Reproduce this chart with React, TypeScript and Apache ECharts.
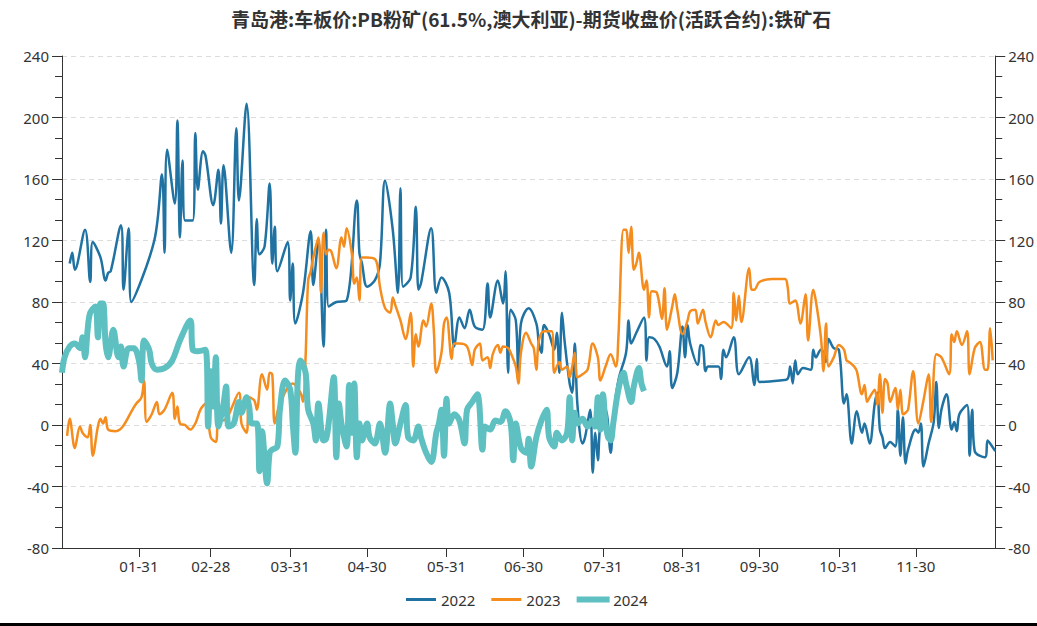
import React, { useEffect, useRef } from "react";
import * as echarts from "echarts";

const TITLE = "青岛港:车板价:PB粉矿(61.5%,澳大利亚)-期货收盘价(活跃合约):铁矿石";
const MONTH_DAYS = [31, 28, 31, 30, 31, 30, 31, 31, 30, 31, 30, 31];
const TICK_LABELS = ["01-31", "02-28", "03-31", "04-30", "05-31", "06-30", "07-31", "08-31", "09-30", "10-31", "11-30"];
const Y_MIN = -80;
const Y_MAX = 240;
const Y_STEP = 40;
const SERIES_NAMES = ["2022", "2023", "2024"];
const COLORS = ["#1f72a1", "#f58c1e", "#5ec0c1"];

const data2022: [string, number][] = [
  ["01-04", 105], ["01-05", 112], ["01-06", 101], ["01-10", 127], ["01-12", 93], ["01-13", 119], ["01-16", 109],
  ["01-18", 94], ["01-19", 99], ["01-20", 100], ["01-24", 130], ["01-25", 88], ["01-27", 128], ["01-28", 80],
  ["02-06", 120], ["02-09", 163], ["02-10", 112], ["02-11", 179], ["02-14", 144], ["02-15", 198], ["02-16", 122],
  ["02-17", 172], ["02-18", 133], ["02-21", 133], ["02-22", 190], ["02-23", 153], ["02-25", 178], ["02-26", 175],
  ["03-01", 143], ["03-03", 166], ["03-04", 131], ["03-05", 169], ["03-08", 112], ["03-10", 193], ["03-11", 146],
  ["03-14", 209], ["03-17", 91], ["03-18", 134], ["03-19", 111], ["03-21", 116], ["03-23", 157], ["03-24", 105],
  ["03-25", 129], ["03-26", 100], ["03-30", 119], ["03-31", 81], ["04-01", 105], ["04-02", 66], ["04-05", 86],
  ["04-08", 126], ["04-09", 91], ["04-11", 120], ["04-13", 51], ["04-14", 127], ["04-15", 77], ["04-18", 80],
  ["04-22", 81], ["04-26", 146], ["04-27", 112], ["04-28", 105], ["04-30", 90], ["05-03", 94], ["05-05", 105],
  ["05-07", 159], ["05-10", 127], ["05-12", 86], ["05-13", 154], ["05-14", 90], ["05-17", 96], ["05-19", 142],
  ["05-20", 88], ["05-21", 92], ["05-25", 128], ["05-27", 86], ["05-29", 96], ["06-01", 86], ["06-03", 51],
  ["06-05", 70], ["06-07", 63], ["06-09", 75], ["06-11", 64], ["06-14", 62], ["06-16", 92], ["06-17", 70],
  ["06-20", 94], ["06-22", 79], ["06-23", 100], ["06-24", 34], ["06-25", 75], ["06-27", 68], ["06-28", 29],
  ["06-29", 66], ["07-02", 76], ["07-05", 66], ["07-06", 53], ["07-07", 47], ["07-08", 65], ["07-10", 59],
  ["07-12", 49], ["07-13", 60], ["07-14", 34], ["07-15", 73], ["07-16", 55], ["07-18", 27], ["07-19", 21],
  ["07-20", 53], ["07-21", 14], ["07-23", -12], ["07-24", -8], ["07-26", 10], ["07-27", -31], ["07-28", -5],
  ["07-29", -23], ["07-30", 1], ["08-01", 10], ["08-03", -18], ["08-04", 5], ["08-06", 29], ["08-09", 47],
  ["08-10", 68], ["08-11", 53], ["08-13", 60], ["08-16", 70], ["08-17", 42], ["08-18", 57], ["08-20", 56],
  ["08-22", 51], ["08-25", 38], ["08-26", 48], ["08-27", 24], ["08-29", 34], ["08-31", 64], ["09-01", 44],
  ["09-02", 65], ["09-03", 53], ["09-06", 39], ["09-07", 52], ["09-08", 51], ["09-09", 35], ["09-10", 38],
  ["09-14", 38], ["09-15", 30], ["09-16", 49], ["09-17", 44], ["09-20", 57], ["09-22", 33], ["09-26", 44],
  ["09-28", 26], ["09-29", 43], ["09-30", 28], ["10-08", 29], ["10-11", 30], ["10-12", 38], ["10-13", 27],
  ["10-14", 42], ["10-15", 33], ["10-17", 37], ["10-20", 36], ["10-21", 49], ["10-22", 44], ["10-24", 49],
  ["10-25", 47], ["10-26", 41], ["10-27", 56], ["10-29", 50], ["10-31", 49], ["11-02", 14], ["11-03", 20],
  ["11-05", -12], ["11-07", 9], ["11-09", -5], ["11-10", 1], ["11-12", -12], ["11-14", 14], ["11-15", 21],
  ["11-16", -3], ["11-17", -8], ["11-18", -15], ["11-20", -11], ["11-22", -14], ["11-23", 10], ["11-24", -20],
  ["11-25", 5], ["11-26", -25], ["11-27", -16], ["11-30", -3], ["12-01", -5], ["12-02", 1], ["12-03", -27],
  ["12-05", -12], ["12-07", 2], ["12-08", 28], ["12-09", -2], ["12-10", 10], ["12-12", 20], ["12-14", -3],
  ["12-15", 2], ["12-16", -4], ["12-17", 7], ["12-20", 13], ["12-21", -20], ["12-22", 10], ["12-23", -17],
  ["12-27", -21], ["12-28", -10], ["12-29", -12], ["12-31", -17],
];

const data2023: [string, number][] = [
  ["01-03", -7], ["01-04", 4], ["01-06", -15], ["01-08", -1], ["01-09", -5], ["01-11", -8], ["01-12", 0],
  ["01-13", -20], ["01-15", -1], ["01-16", 4], ["01-17", 1], ["01-18", 5], ["01-19", -3], ["01-22", -4],
  ["01-30", 14], ["02-01", 18], ["02-02", 29], ["02-03", 2], ["02-05", 7], ["02-07", 15], ["02-08", 7],
  ["02-10", 10], ["02-13", 21], ["02-14", 4], ["02-15", 12], ["02-16", 1], ["02-18", 0], ["02-20", -3],
  ["02-22", 1], ["02-24", 10], ["02-26", 14], ["02-28", -8], ["03-02", -11], ["03-03", 8], ["03-05", 3],
  ["03-11", 21], ["03-12", 1], ["03-14", -5], ["03-15", 18], ["03-17", 16], ["03-18", 10], ["03-20", 33],
  ["03-22", 23], ["03-23", 34], ["03-24", 33], ["03-25", 1], ["03-27", 14], ["04-01", 27], ["04-04", 21],
  ["04-05", 15], ["04-06", 44], ["04-07", 94], ["04-08", 100], ["04-09", 109], ["04-11", 122], ["04-12", 86],
  ["04-13", 125], ["04-14", 111], ["04-15", 114], ["04-16", 113], ["04-18", 102], ["04-20", 122], ["04-21", 116],
  ["04-22", 128], ["04-24", 112], ["04-25", 92], ["04-26", 96], ["04-27", 81], ["04-28", 109], ["04-30", 109],
  ["05-03", 108], ["05-04", 104], ["05-05", 90], ["05-07", 76], ["05-09", 73], ["05-10", 83], ["05-11", 78],
  ["05-13", 68], ["05-15", 56], ["05-17", 73], ["05-18", 38], ["05-19", 59], ["05-20", 51], ["05-22", 68],
  ["05-23", 64], ["05-25", 79], ["05-26", 62], ["05-27", 34], ["05-29", 47], ["05-30", 66], ["05-31", 70],
  ["06-02", 43], ["06-03", 53], ["06-05", 53], ["06-08", 51], ["06-10", 39], ["06-11", 49], ["06-13", 53],
  ["06-14", 42], ["06-16", 44], ["06-17", 37], ["06-18", 46], ["06-20", 52], ["06-21", 47], ["06-22", 51],
  ["06-24", 50], ["06-25", 47], ["06-27", 38], ["06-28", 27], ["06-29", 47], ["07-01", 60], ["07-03", 53],
  ["07-04", 50], ["07-05", 36], ["07-06", 55], ["07-08", 61], ["07-11", 61], ["07-12", 34], ["07-14", 41],
  ["07-15", 36], ["07-17", 38], ["07-18", 31], ["07-19", 38], ["07-20", 47], ["07-21", 31], ["07-23", 33],
  ["07-25", 36], ["07-27", 53], ["07-29", 44], ["07-30", 29], ["08-01", 38], ["08-03", 46], ["08-05", 38],
  ["08-06", 57], ["08-08", 127], ["08-09", 127], ["08-10", 112], ["08-11", 129], ["08-12", 101], ["08-13", 105],
  ["08-14", 112], ["08-16", 88], ["08-17", 94], ["08-18", 70], ["08-19", 87], ["08-21", 86], ["08-23", 69],
  ["08-24", 89], ["08-25", 62], ["08-27", 77], ["08-28", 85], ["08-29", 75], ["08-31", 59], ["09-02", 68],
  ["09-03", 74], ["09-05", 75], ["09-06", 66], ["09-08", 75], ["09-09", 67], ["09-11", 57], ["09-13", 68],
  ["09-14", 65], ["09-16", 67], ["09-19", 63], ["09-20", 86], ["09-21", 68], ["09-22", 84], ["09-23", 67],
  ["09-26", 102], ["09-27", 88], ["09-28", 88], ["09-30", 93], ["10-05", 95], ["10-10", 95], ["10-11", 90],
  ["10-12", 79], ["10-14", 81], ["10-16", 66], ["10-18", 85], ["10-19", 55], ["10-21", 88], ["10-22", 81],
  ["10-24", 57], ["10-25", 35], ["10-26", 66], ["10-27", 38], ["10-29", 44], ["10-31", 52], ["11-02", 49],
  ["11-03", 42], ["11-04", 41], ["11-06", 38], ["11-07", 35], ["11-09", 20], ["11-10", 26], ["11-11", 15],
  ["11-12", 18], ["11-14", 23], ["11-15", 13], ["11-16", 33], ["11-17", 8], ["11-18", 30], ["11-19", 27],
  ["11-20", 15], ["11-22", 24], ["11-23", 10], ["11-24", 23], ["11-25", 7], ["11-26", 8], ["11-27", 10],
  ["11-29", 35], ["12-01", 1], ["12-03", 16], ["12-05", 33], ["12-06", 2], ["12-08", 46], ["12-10", 44],
  ["12-13", 33], ["12-14", 59], ["12-15", 54], ["12-16", 61], ["12-18", 52], ["12-20", 61], ["12-21", 33],
  ["12-23", 50], ["12-25", 54], ["12-27", 36], ["12-28", 36], ["12-29", 63], ["12-30", 42],
];

const data2024: [string, number][] = [
  ["01-01", 34], ["01-02", 44], ["01-04", 51], ["01-06", 53], ["01-08", 50], ["01-09", 57], ["01-10", 44],
  ["01-11", 62], ["01-12", 73], ["01-14", 77], ["01-15", 57], ["01-16", 79], ["01-17", 79], ["01-18", 53],
  ["01-19", 44], ["01-21", 62], ["01-23", 44], ["01-24", 51], ["01-25", 38], ["01-27", 50], ["01-29", 50],
  ["01-31", 42], ["02-01", 29], ["02-02", 55], ["02-04", 49], ["02-05", 40], ["02-07", 36], ["02-10", 37],
  ["02-13", 42], ["02-16", 55], ["02-20", 68], ["02-21", 49], ["02-23", 48], ["02-26", 49], ["02-27", -1],
  ["02-28", 35], ["03-01", 12], ["03-02", 44], ["03-03", -1], ["03-05", 14], ["03-06", 25], ["03-07", -1],
  ["03-09", 1], ["03-11", 15], ["03-12", 8], ["03-14", 18], ["03-15", 12], ["03-16", 1], ["03-18", 1],
  ["03-19", -30], ["03-20", -4], ["03-22", -38], ["03-23", -18], ["03-24", -16], ["03-26", -14], ["03-27", 10],
  ["03-29", 29], ["03-31", 23], ["04-01", 1], ["04-02", -18], ["04-03", 31], ["04-04", 42], ["04-06", 34],
  ["04-07", 10], ["04-09", 1], ["04-10", -10], ["04-11", 14], ["04-13", -10], ["04-14", -9], ["04-15", 1],
  ["04-17", 31], ["04-18", -21], ["04-19", 14], ["04-20", 1], ["04-22", -14], ["04-23", 26], ["04-24", -5],
  ["04-25", 27], ["04-26", -21], ["04-27", 1], ["04-28", -10], ["04-30", 1], ["05-01", -8], ["05-03", -12],
  ["05-05", 1], ["05-07", -18], ["05-09", 14], ["05-10", 1], ["05-11", -12], ["05-13", 1], ["05-15", 13],
  ["05-16", -8], ["05-18", -10], ["05-20", -1], ["05-21", -8], ["05-23", -18], ["05-25", -24], ["05-27", -5],
  ["05-28", 1], ["05-29", 10], ["05-30", -20], ["05-31", 17], ["06-01", 1], ["06-03", 7], ["06-05", 3],
  ["06-07", -12], ["06-08", 10], ["06-10", 15], ["06-12", 20], ["06-14", -16], ["06-15", -1], ["06-17", -3],
  ["06-19", 3], ["06-21", 2], ["06-23", 9], ["06-25", 1], ["06-26", -23], ["06-27", 1], ["06-29", -15],
  ["07-01", -18], ["07-02", -9], ["07-03", -27], ["07-05", -8], ["07-07", 3], ["07-09", 10], ["07-10", -8],
  ["07-12", -14], ["07-13", -5], ["07-15", -10], ["07-17", -5], ["07-18", 18], ["07-19", -10], ["07-20", 8],
  ["07-21", 1], ["07-23", 4], ["07-25", -1], ["07-27", 3], ["07-28", -1], ["07-29", 18], ["07-30", -3],
  ["07-31", 20], ["08-01", 1], ["08-02", -8], ["08-03", -10], ["08-04", 1], ["08-06", 23], ["08-08", 34],
  ["08-09", 27], ["08-11", 15], ["08-12", 25], ["08-14", 37], ["08-15", 27], ["08-16", 22],
];

const SERIES_DATA = [data2022, data2023, data2024];
const LINE_WIDTHS = [2.5, 2.5, 6];

const categories: string[] = [];
MONTH_DAYS.forEach((n, m) => {
  for (let d = 1; d <= n; d++) {
    categories.push(String(m + 1).padStart(2, "0") + "-" + String(d).padStart(2, "0"));
  }
});

const FONT = "'Noto Sans CJK SC', 'Noto Sans', sans-serif";
const LABEL_FONT = "'Noto Sans', 'Open Sans', sans-serif";
const showTick = (_i: number, v: string) => TICK_LABELS.includes(v);

function yAxis(position: "left" | "right", split: boolean) {
  return {
    type: "value",
    position,
    min: Y_MIN,
    max: Y_MAX,
    interval: Y_STEP,
    axisLine: { show: true, lineStyle: { color: "#333", width: 1 } },
    axisTick: { show: true, length: 10, lineStyle: { color: "#333" } },
    minorTick: { show: true, splitNumber: 3, length: 7, lineStyle: { color: "#333" } },
    axisLabel: { color: "#333", fontSize: 15, margin: 13, fontFamily: LABEL_FONT },
    splitLine: { show: split, lineStyle: { color: "#dcdcdc", type: [5, 4] } },
  };
}

export default function App() {
  const ref = useRef<HTMLDivElement>(null);
  useEffect(() => {
    if (!ref.current) return;
    const chart = echarts.init(ref.current, undefined, { renderer: "svg" });
    chart.setOption({
      animation: false,
      backgroundColor: "#fff",
      textStyle: { fontFamily: FONT },
      title: {
        text: TITLE,
        left: 226,
        top: 4,
        textStyle: { fontSize: 19, fontWeight: "bold", color: "#333", fontFamily: FONT },
      },
      legend: {
        data: SERIES_NAMES.map((name, i) => ({
          name,
          icon: "rect",
          itemStyle: i === 2 ? { borderWidth: 3, borderColor: COLORS[i] } : { borderWidth: 0 },
        })),
        left: 401,
        top: 587,
        itemWidth: 30,
        itemHeight: 3,
        itemGap: 16,
        textStyle: { fontSize: 15, color: "#333", fontFamily: LABEL_FONT },
      },
      grid: { left: 62, right: 39, top: 56, bottom: 78 },
      xAxis: {
        type: "category",
        data: categories,
        boundaryGap: false,
        axisLine: { onZero: false, lineStyle: { color: "#333" } },
        axisTick: { show: true, interval: showTick, length: 9, lineStyle: { color: "#333" } },
        axisLabel: { interval: showTick, color: "#333", fontSize: 15, margin: 10, fontFamily: LABEL_FONT },
        splitLine: { show: false },
      },
      yAxis: [yAxis("left", true), yAxis("right", false)],
      series: SERIES_NAMES.map((name, i) => ({
        name,
        type: "line",
        yAxisIndex: 0,
        data: SERIES_DATA[i],
        showSymbol: false,
        symbol: "none",
        smooth: 0.35,
        lineStyle: { width: LINE_WIDTHS[i], color: COLORS[i] },
        itemStyle: { color: COLORS[i] },
        z: 2 + i,
      })),
      graphic: [
        { type: "rect", left: 0, top: 623, shape: { width: 1037, height: 3 }, style: { fill: "#000" } },
      ],
    });
    return () => chart.dispose();
  }, []);
  return (
    <div
      ref={ref}
      style={{ position: "absolute", left: 0, top: 0, width: 1037, height: 626, background: "#fff" }}
    />
  );
}
